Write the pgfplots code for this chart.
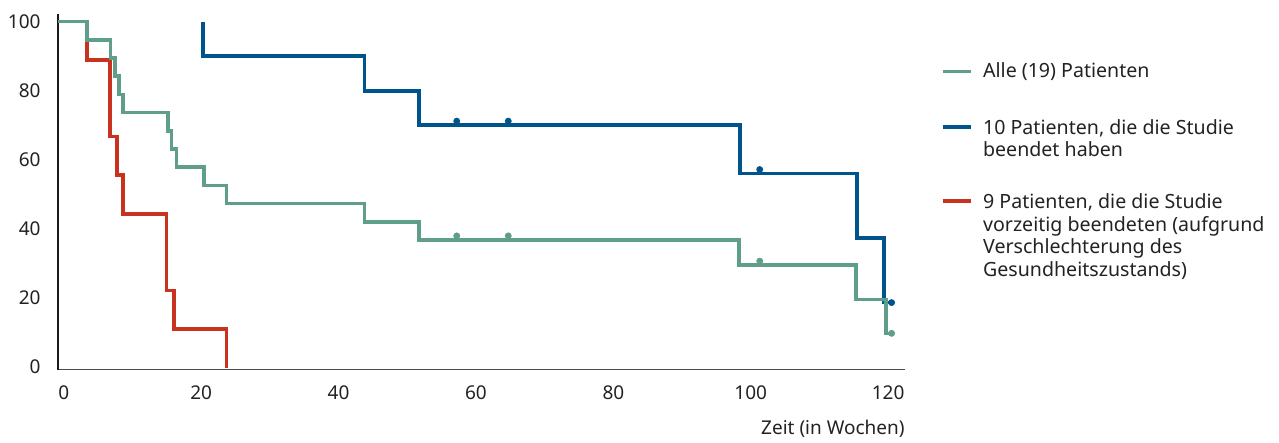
\documentclass[border=0pt]{standalone}
\usepackage{fontspec}
\setmainfont{Noto Sans}
\usepackage{pgfplots}
\pgfplotsset{compat=1.18}
\definecolor{cgreen}{RGB}{95,158,138}
\definecolor{cblue}{RGB}{0,84,140}
\definecolor{cred}{RGB}{200,50,30}
\definecolor{ctext}{RGB}{34,34,34}
\begin{document}
\begin{tikzpicture}
\useasboundingbox (0,0) rectangle (639.5pt,221.5pt);
\begin{axis}[
  at={(29pt,36.65pt)}, anchor=south west,
  width=423.5pt, height=177.85pt, scale only axis,
  xmin=-0.84, xmax=122.45, ymin=-0.72, ymax=102.2,
  axis x line*=bottom, axis y line*=left,
  x axis line style={-, draw=black!70, line width=0.8pt},
  y axis line style={-, draw=black!90, line width=0.7pt},
  xtick={0,20,...,120}, ytick={0,20,...,100},
  major tick length=0pt, tick style={draw=none},
  /pgf/number format/assume math mode=true,
  ticklabel style={font=\fontsize{9.5}{11}\selectfont, text=ctext, inner sep=0pt},
  xticklabel style={anchor=north, yshift=-7.6pt},
  yticklabel style={anchor=east, xshift=-8.5pt},
  xlabel={Zeit (in Wochen)},
  xlabel style={at={(axis description cs:1,0)}, anchor=base east, yshift=-32.6pt, inner sep=0pt, font=\fontsize{9.5}{11}\selectfont, text=ctext},
  clip=false,
]
% 9 patients (early termination)
\addplot[cred, line width=1.8pt] coordinates {
 (-0.8,100) (3.4,100) (3.4,88.9) (6.73,88.9) (6.73,66.7) (7.79,66.7) (7.79,55.6)
 (8.66,55.6) (8.66,44.4) (14.98,44.4) (14.98,22.2) (16.04,22.2) (16.04,11.1)
 (23.71,11.1) (23.71,-0.3)
};
% 10 patients (completed)
\addplot[cblue, line width=1.8pt] coordinates {
 (20.3,100) (20.3,90) (43.8,90) (43.8,80) (51.7,80) (51.7,70) (98.45,70) (98.45,56)
 (115.5,56) (115.5,37.3) (119.4,37.3) (119.4,18.7) (120.5,18.7)
};
% all 19 patients
\addplot[cgreen, line width=1.8pt] coordinates {
 (-0.8,100) (3.4,100) (3.4,94.7) (6.8,94.7) (6.8,89.5) (7.45,89.5) (7.45,84.2)
 (8.0,84.2) (8.0,78.9) (8.66,78.9) (8.66,73.7) (15.2,73.7) (15.2,68.4) (15.7,68.4)
 (15.7,63.2) (16.4,63.2) (16.4,57.9) (20.4,57.9) (20.4,52.6) (23.71,52.6) (23.71,47.4)
 (43.8,47.4) (43.8,42.1) (51.7,42.1) (51.7,36.8) (98.3,36.8) (98.3,29.5) (115.3,29.5)
 (115.3,19.6) (119.7,19.6) (119.7,9.8) (120.5,9.8)
};
% censored observations
\addplot[only marks, mark=*, mark size=1.5pt, cblue, mark options={draw=cblue, fill=cblue}] coordinates {
 (57.2,71.2) (64.7,71.2) (101.3,57.2) (120.5,18.7)
};
\addplot[only marks, mark=*, mark size=1.5pt, cgreen, mark options={draw=cgreen, fill=cgreen}] coordinates {
 (57.2,38.0) (64.7,38.0) (101.3,30.7) (120.5,9.8)
};
\end{axis}
% legend
\begin{scope}[every node/.style={anchor=base west, inner sep=0pt, font=\fontsize{9.8}{11}\selectfont, text=ctext}]
\draw[cgreen, line width=1.8pt] (471.35pt,185.65pt) -- (485.5pt,185.65pt);
\draw[cblue, line width=1.8pt] (471.35pt,157.85pt) -- (485.5pt,157.85pt);
\draw[cred, line width=1.8pt] (471.35pt,121pt) -- (485.5pt,121pt);
\node at (491.35pt,182.85pt) {Alle (19) Patienten};
\node at (491.35pt,154pt) {10 Patienten, die die Studie};
\node at (491.35pt,143.15pt) {beendet haben};
\node at (491.35pt,117.35pt) {9 Patienten, die die Studie};
\node at (491.35pt,105.65pt) {vorzeitig beendeten (aufgrund};
\node at (491.35pt,94.85pt) {Verschlechterung des};
\node at (491.35pt,83.15pt) {Gesundheitszustands)};
\end{scope}
\end{tikzpicture}
\end{document}
